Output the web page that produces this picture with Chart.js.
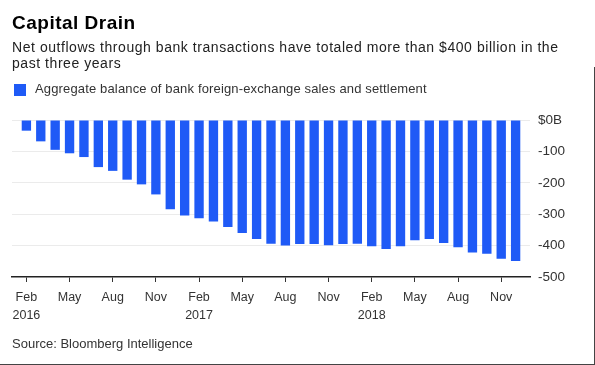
<!DOCTYPE html>
<html>
<head>
<meta charset="utf-8">
<script src="https://cdn.jsdelivr.net/npm/chart.js@4.4.0/dist/chart.umd.min.js"></script>
<style>
  body { margin: 0; background: #fff; font-family: "Liberation Sans", Arial, sans-serif; }
  #wrap { position: relative; width: 595px; height: 365px; overflow: hidden; background: #fff; }
  canvas { position: absolute; left: 0; top: 0; }
  .t { position: absolute; white-space: nowrap; }
  #title { left: 12px; top: 13px; font-size: 19px; line-height: 19px; font-weight: bold; color: #000; letter-spacing: 0.5px; }
  #sub { left: 12px; top: 39px; font-size: 14px; line-height: 16px; color: #222; letter-spacing: 0.55px; }
  #key { left: 14px; top: 84px; width: 12px; height: 12px; background: #1f5af6; position: absolute; }
  #keytxt { left: 35px; top: 81px; font-size: 13px; line-height: 15px; color: #333; letter-spacing: 0.15px; }
  #src { left: 12px; top: 336px; font-size: 13px; line-height: 15px; color: #333; }
  .edge { position: absolute; background: #444; }
</style>
</head>
<body>
<div id="wrap">
  <canvas id="chart" width="595" height="365"></canvas>
  <div class="t" id="title">Capital Drain</div>
  <div class="t" id="sub">Net outflows through bank transactions have totaled more than $400 billion in the<br>past three years</div>
  <div id="key"></div>
  <div class="t" id="keytxt">Aggregate balance of bank foreign-exchange sales and settlement</div>
  <div class="t" id="src">Source: Bloomberg Intelligence</div>
  <div class="edge" style="left:594px;top:67px;width:1px;height:298px"></div>
  <div class="edge" style="left:0;top:364px;width:595px;height:1px"></div>
</div>
<script>
// months on the axis, Jan 2016 .. Jan 2019 (first and last are empty padding slots)
const categories = [
  '2016-01', '2016-02', '2016-03', '2016-04', '2016-05', '2016-06', '2016-07', '2016-08', '2016-09', '2016-10', '2016-11', '2016-12',
  '2017-01', '2017-02', '2017-03', '2017-04', '2017-05', '2017-06', '2017-07', '2017-08', '2017-09', '2017-10', '2017-11', '2017-12',
  '2018-01', '2018-02', '2018-03', '2018-04', '2018-05', '2018-06', '2018-07', '2018-08', '2018-09', '2018-10', '2018-11', '2018-12',
  '2019-01'
];
// aggregate balance, $B, Feb 2016 .. Dec 2018
const balance = [
  -34, -68, -95, -106, -118, -150, -162, -190, -205, -237,
  -284, -304, -313, -323, -341, -360, -379, -394, -400, -395,
  -395, -399, -395, -394, -402, -411, -402, -383, -379, -392,
  -405, -422, -426, -442, -449
];
const monthNames = ['Jan', 'Feb', 'Mar', 'Apr', 'May', 'Jun', 'Jul', 'Aug', 'Sep', 'Oct', 'Nov', 'Dec'];
const labeledMonths = ['Feb', 'May', 'Aug', 'Nov'];
const yTicks = [0, -100, -200, -300, -400, -500];

const BLUE = '#1f5af6';
const FONT = '"Liberation Sans", Arial, sans-serif';

function monthOf(i) {
  return monthNames[parseInt(categories[i].slice(5), 10) - 1];
}
function isLabeled(i) {
  return labeledMonths.includes(monthOf(i));
}

const data = [null].concat(balance, [null]);

new Chart(document.getElementById('chart'), {
  type: 'bar',
  data: {
    labels: categories,
    datasets: [{
      label: 'Aggregate balance of bank foreign-exchange sales and settlement',
      data: data,
      backgroundColor: BLUE,
      barPercentage: 1,
      categoryPercentage: 0.65
    }]
  },
  options: {
    responsive: false,
    animation: false,
    layout: { padding: { left: 12, top: 120, right: 15, bottom: 40 } },
    plugins: { legend: { display: false }, tooltip: { enabled: false } },
    scales: {
      x: {
        offset: false,
        grid: {
          offset: false,
          drawOnChartArea: false,
          tickLength: 5,
          color: ctx => isLabeled(ctx.index) ? '#333' : 'rgba(0,0,0,0)'
        },
        border: { display: true, color: '#222', width: 1.5 },
        ticks: {
          autoSkip: false,
          maxRotation: 0,
          padding: 7,
          color: '#333',
          font: { family: FONT, size: 12.5, lineHeight: 1.4 },
          callback: function (v, i) {
            if (!isLabeled(i)) return '';
            const m = monthOf(i);
            if (m === 'Feb') return [m, categories[i].slice(0, 4)];
            return m;
          }
        },
        afterFit: s => { s.height = 48; }
      },
      y: {
        position: 'right',
        min: -500,
        max: 0,
        afterBuildTicks: s => { s.ticks = yTicks.map(v => ({ value: v })); },
        grid: {
          drawTicks: false,
          color: ctx => ctx.tick && ctx.tick.value === -500 ? 'rgba(0,0,0,0)' : '#ebebeb'
        },
        border: { display: false },
        ticks: {
          padding: 8,
          color: '#333',
          font: { family: FONT, size: 13.5 },
          callback: v => v === 0 ? '$0B' : String(v)
        },
        afterFit: s => { s.width = 50; }
      }
    }
  }
});
</script>
</body>
</html>
